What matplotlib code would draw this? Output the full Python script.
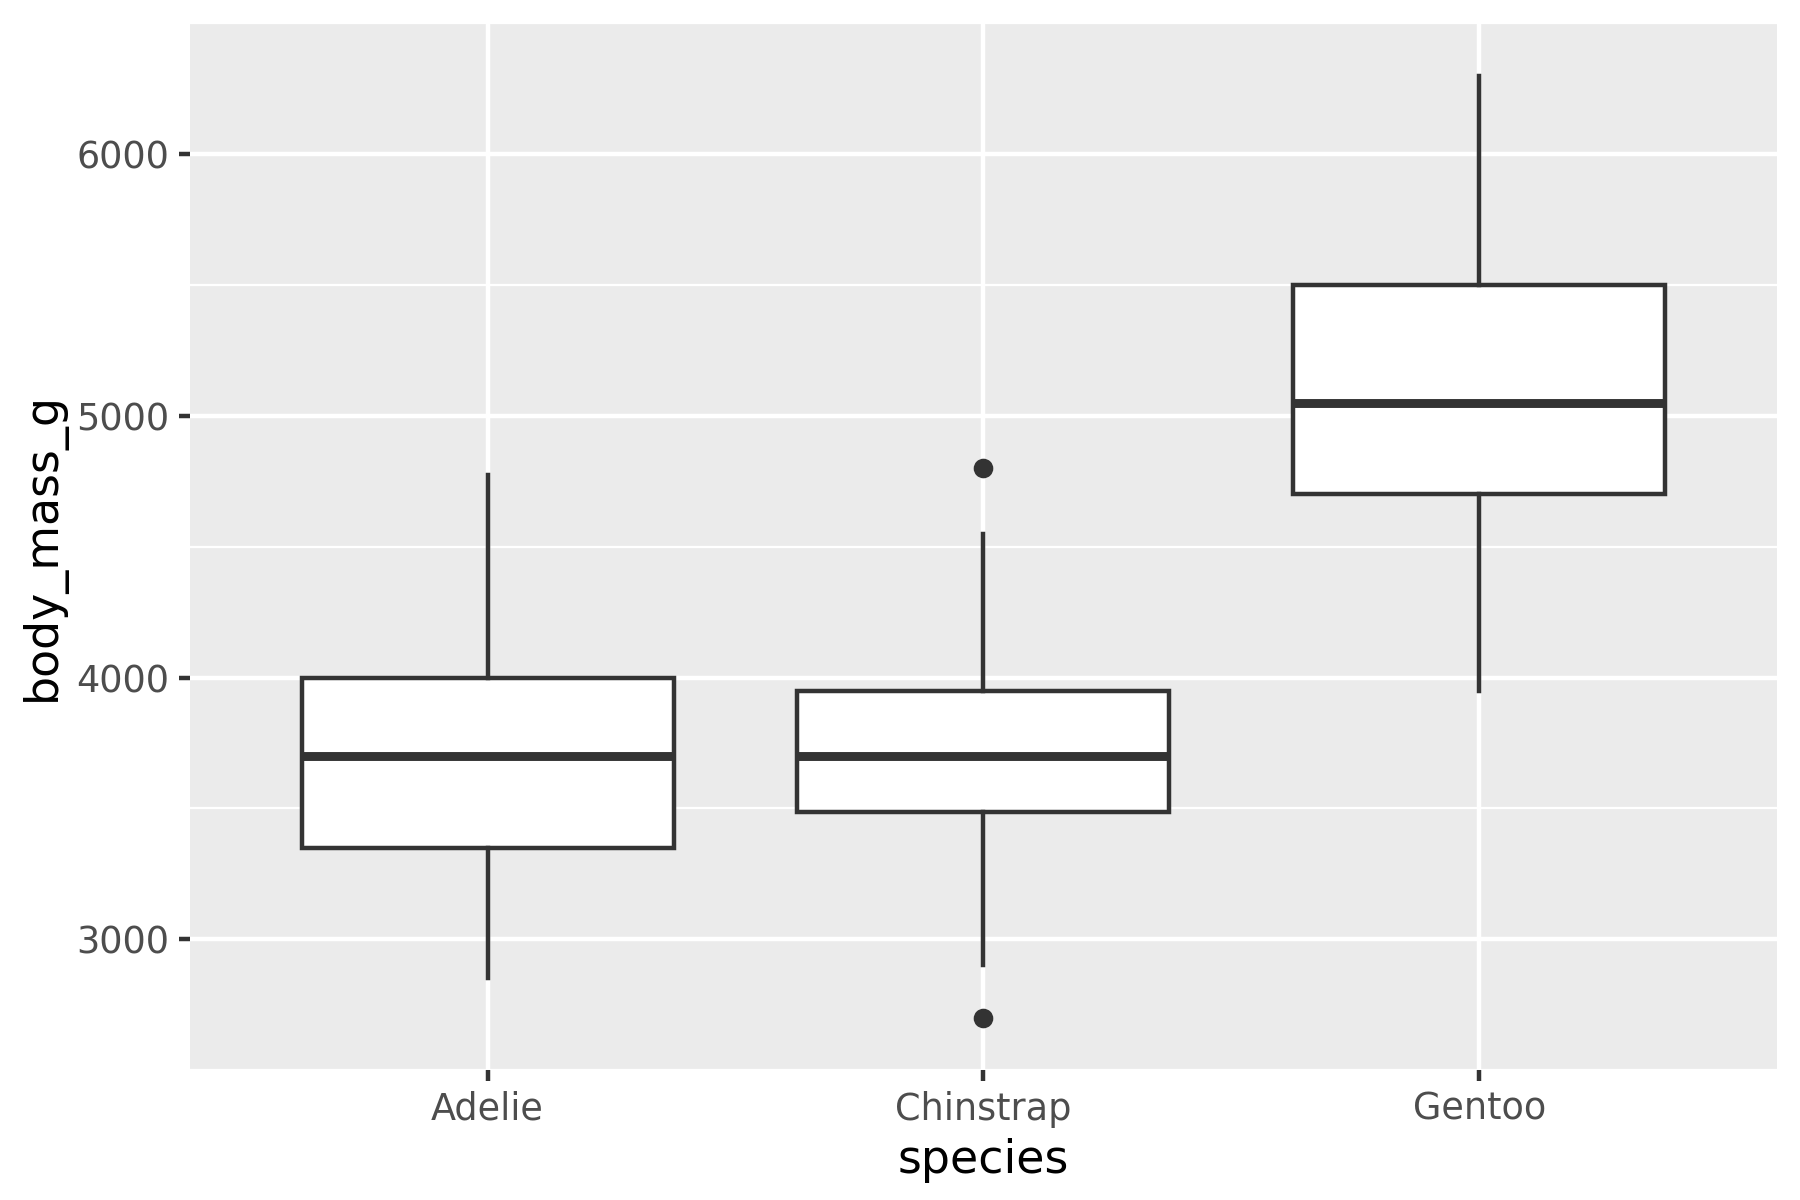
import matplotlib
matplotlib.use('Agg')
import matplotlib.pyplot as plt

# ── Data: per-species box statistics (body mass, g) ────────────────────────
species = ['Adelie', 'Chinstrap', 'Gentoo']
q1      = [3350, 3487.5, 4700]
median  = [3700, 3700, 5050]
q3      = [4000, 3950, 5500]
wlo     = [2850, 2900, 3950]
whi     = [4775, 4550, 6300]
outliers = [[], [4800, 2700], []]

DARK = '#333333'
LW = 1.07

stats = []
for i, name in enumerate(species):
    stats.append(dict(label=name, q1=q1[i], med=median[i], q3=q3[i],
                      whislo=wlo[i], whishi=whi[i], fliers=outliers[i]))

fig = plt.figure(figsize=(6, 4), dpi=300)
fig.patch.set_facecolor('white')
ax = fig.add_axes([0.1056, 0.1083, 0.8815, 0.8722])
ax.set_facecolor('#EBEBEB')

ax.bxp(stats, positions=[1, 2, 3], widths=0.75, showcaps=False,
       patch_artist=True,
       boxprops=dict(facecolor='white', edgecolor=DARK, linewidth=LW),
       whiskerprops=dict(color=DARK, linewidth=LW),
       medianprops=dict(color=DARK, linewidth=LW * 2, solid_capstyle='butt'),
       flierprops=dict(marker='o', markerfacecolor=DARK, markeredgecolor=DARK,
                       markersize=4.2, markeredgewidth=0.5),
       zorder=3)

ax.set_xlim(0.4, 3.6)
ax.set_ylim(2520, 6480)
ax.set_yticks([3000, 4000, 5000, 6000])
ax.set_yticks([2500, 3500, 4500, 5500, 6500], minor=True)
ax.set_xticks([1, 2, 3])
ax.set_xticklabels(species)

ax.set_axisbelow(True)
ax.grid(True, which='major', color='white', linewidth=LW)
ax.grid(True, which='minor', axis='y', color='white', linewidth=LW / 2)
for s in ax.spines.values():
    s.set_visible(False)

ax.tick_params(which='major', length=2.75, width=LW, color=DARK,
               labelsize=8.8, labelcolor='#4D4D4D', pad=2.2)
ax.tick_params(which='minor', length=0)

ax.set_xlabel('species', fontsize=11, color='black', labelpad=2.4)
ax.set_ylabel('body_mass_g', fontsize=11, color='black', labelpad=2.5)

fig.savefig('out.png', dpi=300, facecolor='white')
